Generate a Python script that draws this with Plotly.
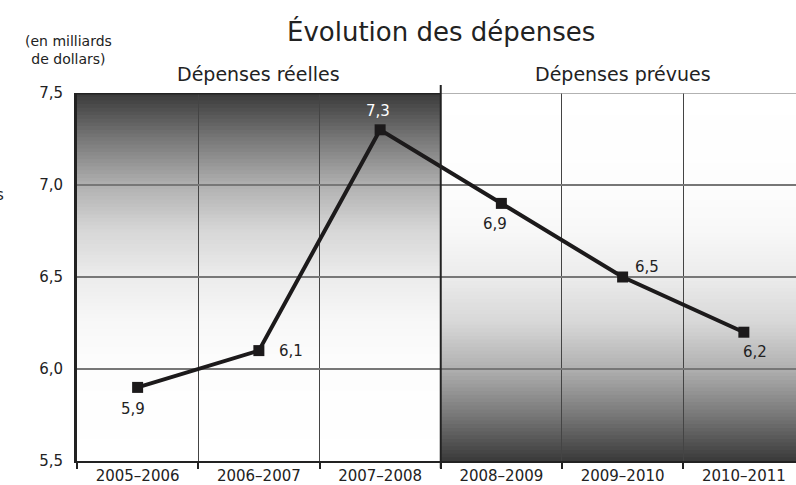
import numpy as np
import plotly.graph_objects as go

categories = ["2005–2006", "2006–2007", "2007–2008", "2008–2009", "2009–2010", "2010–2011"]
values = [5.9, 6.1, 7.3, 6.9, 6.5, 6.2]
y_ticks = [5.5, 6.0, 6.5, 7.0, 7.5]
sections = ["Dépenses réelles", "Dépenses prévues"]

# label offsets in pixels (styling)
label_shift = [(-5, -22), (32, 0), (-2, 19), (-6, -21), (24, 10), (11, -20)]
label_color = ["#222", "#222", "#ffffff", "#222", "#222", "#222"]

FONT = "DejaVu Sans"
TXT = "#222222"

fig = go.Figure()
fig.add_trace(go.Scatter(
    x=categories, y=values, mode="lines+markers",
    line=dict(color="#1c1a1b", width=4),
    marker=dict(symbol="square", size=11, color="#1c1a1b"),
    hoverinfo="skip", showlegend=False,
))

# gradient bands (styling)
ctrl_t = [0.0, 0.125, 0.25, 0.375, 0.5, 0.625, 0.75, 1.0]   # fraction from the dark edge
ctrl_g = [58, 120, 176, 215, 236, 248, 253, 255]
ymin, ymax = 5.5, 7.5
n = 100
step = (ymax - ymin) / n
shapes = []
for i in range(n):
    y0 = ymin + step * i
    ym = y0 + step / 2
    tl = (ymax - ym) / (ymax - ymin)
    gl = int(round(np.interp(tl, ctrl_t, ctrl_g)))
    tr = (ym - ymin) / (ymax - ymin)
    gr = int(round(np.interp(tr, ctrl_t, ctrl_g)))
    top = min(y0 + step * 2.2, ymax)
    shapes.append(dict(type="rect", xref="x", yref="y", x0=-0.5, x1=2.5, y0=y0, y1=top,
                       fillcolor=f"rgb({gl},{gl},{gl})", line=dict(width=0), layer="below"))
    shapes.append(dict(type="rect", xref="x", yref="y", x0=2.5, x1=6.5, y0=y0, y1=top,
                       fillcolor=f"rgb({gr},{gr},{gr})", line=dict(width=0), layer="below"))

# borders
shapes.append(dict(type="line", xref="x", yref="y", x0=-0.5, x1=2.5, y0=7.5, y1=7.5,
                   line=dict(color="#222", width=3), layer="above"))
shapes.append(dict(type="line", xref="x", yref="y", x0=2.5, x1=6.5, y0=7.5, y1=7.5,
                   line=dict(color="#999", width=1.5), layer="above"))
shapes.append(dict(type="line", xref="x", yref="paper", x0=2.5, x1=2.5, y0=-0.02, y1=1.022,
                   line=dict(color="#222", width=2), layer="above"))

annotations = []
for i, (c, v) in enumerate(zip(categories, values)):
    annotations.append(dict(
        x=c, y=v, xref="x", yref="y", text=f"{v:.1f}".replace(".", ","),
        showarrow=False, xshift=label_shift[i][0], yshift=label_shift[i][1],
        font=dict(family=FONT, size=15, color=label_color[i]),
    ))

annotations.append(dict(x=1, y=1, xref="x", yref="paper", text=sections[0], showarrow=False,
                        yanchor="bottom", yshift=6, font=dict(family=FONT, size=19, color=TXT)))
annotations.append(dict(x=4, y=1, xref="x", yref="paper", text=sections[1], showarrow=False,
                        yanchor="bottom", yshift=6, font=dict(family=FONT, size=19, color=TXT)))
annotations.append(dict(x=2.5, y=1, xref="x", yref="paper", text="Évolution des dépenses",
                        showarrow=False, yanchor="middle", yshift=62,
                        font=dict(family=FONT, size=26, color=TXT)))
annotations.append(dict(x=(68 - 77) / 719, y=1, xref="paper", yref="paper",
                        text="(en milliards<br>de dollars)", showarrow=False,
                        yanchor="middle", xanchor="center", yshift=43,
                        font=dict(family=FONT, size=14, color=TXT)))
annotations.append(dict(x=(6 - 77) / 719, y=(465 - 196) / 372, xref="paper", yref="paper",
                        text="s", showarrow=False, xanchor="right", yanchor="middle",
                        font=dict(family=FONT, size=15, color=TXT)))

fig.update_layout(
    width=796, height=485,
    margin=dict(l=77, r=0, t=93, b=20),
    paper_bgcolor="white", plot_bgcolor="white",
    separators=", ",
    shapes=shapes, annotations=annotations,
    font=dict(family=FONT, color=TXT),
    xaxis=dict(
        type="category", range=[-0.5, 5.43], tickson="boundaries",
        ticks="outside", ticklen=6, tickcolor="#222", tickwidth=1.5,
        showgrid=True, gridcolor="#444", gridwidth=1,
        showline=True, linecolor="#222", linewidth=2,
        tickfont=dict(family=FONT, size=15, color=TXT),
        fixedrange=True,
    ),
    yaxis=dict(
        range=[5.5, 7.5], tickvals=y_ticks, tickformat=".1f",
        ticks="outside", ticklen=8, tickcolor="rgba(0,0,0,0)",
        showgrid=True, gridcolor="#777", gridwidth=1.5,
        showline=True, linecolor="#222", linewidth=3,
        zeroline=False,
        tickfont=dict(family=FONT, size=15, color=TXT),
        fixedrange=True,
    ),
)

fig.write_html("out.html", config={"displayModeBar": False},
               post_script="document.body.style.margin='0';document.body.style.overflow='hidden';")
